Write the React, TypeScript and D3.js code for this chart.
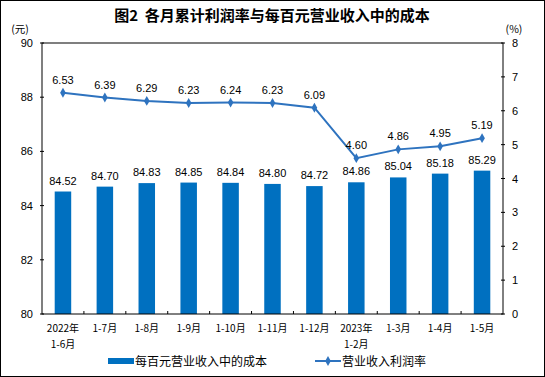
import React from "react";
import * as d3 from "d3";

const categories = ["2022年\n1-6月", "1-7月", "1-8月", "1-9月", "1-10月", "1-11月", "1-12月", "2023年\n1-2月", "1-3月", "1-4月", "1-5月"];
const costValues = [84.52, 84.70, 84.83, 84.85, 84.84, 84.80, 84.72, 84.86, 85.04, 85.18, 85.29];
const rateValues = [6.53, 6.39, 6.29, 6.23, 6.24, 6.23, 6.09, 4.60, 4.86, 4.95, 5.19];
const leftTicks = [80, 82, 84, 86, 88, 90];
const rightTicks = [0, 1, 2, 3, 4, 5, 6, 7, 8];
const title = "图2\u00a0\u00a0各月累计利润率与每百元营业收入中的成本";
const legendBar = "每百元营业收入中的成本";
const legendLine = "营业收入利润率";

const W = 545, H = 377;
const L = 42, R = 503, T = 43, B = 314;
const BAR = "#0070c0";
const LINE = "#2e73bf";
const NUM = "'Liberation Sans', Arial, sans-serif";
const CJK = "'Noto Sans CJK SC', sans-serif";

export default function App() {
  const x = d3.scaleBand<number>().domain(d3.range(categories.length)).range([L, R]).paddingInner(0).paddingOuter(0);
  const bw = 16.5;
  const yL = d3.scaleLinear().domain([80, 90]).range([B, T]);
  const yR = d3.scaleLinear().domain([0, 8]).range([B, T]);
  const cx = (i: number) => (x(i) as number) + x.bandwidth() / 2;
  const line = d3.line<number>().x((_, i) => cx(i)).y((d) => yR(d));
  const diamond = d3.symbol().type(d3.symbolDiamond).size(28)() as string;

  return (
    <svg width={W} height={H} style={{ position: "absolute", left: 0, top: 0, background: "#fff" }}>
      <rect x={0.5} y={0.5} width={W - 1} height={H - 1} fill="#fff" stroke="#000" strokeWidth={1} />
      <text x={272} y={21} textAnchor="middle" fontFamily={CJK} fontWeight="bold" fontSize={15} fill="#000">{title}</text>
      <text x={20} y={33} textAnchor="middle" fontFamily={CJK} fontSize={10.5} fill="#000">(元)</text>
      <text x={514} y={33} textAnchor="middle" fontFamily={CJK} fontSize={10.5} fill="#000">(%)</text>

      {/* bars */}
      {costValues.map((v, i) => (
        <rect key={"b" + i} x={cx(i) - bw / 2} y={yL(v)} width={bw} height={B - yL(v)} fill={BAR} />
      ))}
      {costValues.map((v, i) => (
        <text key={"bl" + i} x={cx(i)} y={yL(v) - 7} textAnchor="middle" fontFamily={NUM} fontSize={11} fill="#000">{v.toFixed(2)}</text>
      ))}

      {/* frame */}
      <rect x={L} y={T} width={R - L} height={B - T} fill="none" stroke="#000" strokeWidth={1} />

      {/* left axis ticks */}
      {leftTicks.map((t) => (
        <g key={"lt" + t}>
          <line x1={L - 2} x2={L + 2} y1={yL(t)} y2={yL(t)} stroke="#000" />
          <text x={33} y={yL(t) + 4} textAnchor="end" fontFamily={NUM} fontSize={11} fill="#000">{t}</text>
        </g>
      ))}
      {/* right axis ticks */}
      {rightTicks.map((t) => (
        <g key={"rt" + t}>
          <line x1={R - 2} x2={R + 2} y1={yR(t)} y2={yR(t)} stroke="#000" />
          <text x={512} y={yR(t) + 4} textAnchor="start" fontFamily={NUM} fontSize={11} fill="#000">{t}</text>
        </g>
      ))}
      {/* x ticks */}
      {categories.map((_, i) => i > 0 ? (
        <line key={"xt" + i} x1={x(i) as number} x2={x(i) as number} y1={B} y2={B - 3} stroke="#000" />
      ) : null)}
      {categories.map((c, i) => (
        <text key={"xl" + i} x={cx(i)} y={332} textAnchor="middle" fontFamily={CJK} fontSize={10} fill="#000">
          {c.split("\n").map((s, j) => (
            <tspan key={j} x={cx(i)} dy={j === 0 ? 0 : 16}>{s}</tspan>
          ))}
        </text>
      ))}

      {/* line */}
      <path d={line(rateValues) as string} fill="none" stroke={LINE} strokeWidth={2} />
      {rateValues.map((v, i) => (
        <path key={"m" + i} d={diamond} transform={`translate(${cx(i)},${yR(v)})`} fill={LINE} />
      ))}
      {rateValues.map((v, i) => (
        <text key={"ll" + i} x={cx(i)} y={yR(v) - 9} textAnchor="middle" fontFamily={NUM} fontSize={11} fill="#000">{v.toFixed(2)}</text>
      ))}

      {/* legend */}
      <rect x={108} y={358} width={26} height={6} fill={BAR} />
      <text x={135} y={366} fontFamily={CJK} fontSize={12} fill="#000">{legendBar}</text>
      <line x1={315} x2={341} y1={361} y2={361} stroke={LINE} strokeWidth={2} />
      <path d={diamond} transform="translate(328,361)" fill={LINE} />
      <text x={342} y={366} fontFamily={CJK} fontSize={12} fill="#000">{legendLine}</text>
    </svg>
  );
}
